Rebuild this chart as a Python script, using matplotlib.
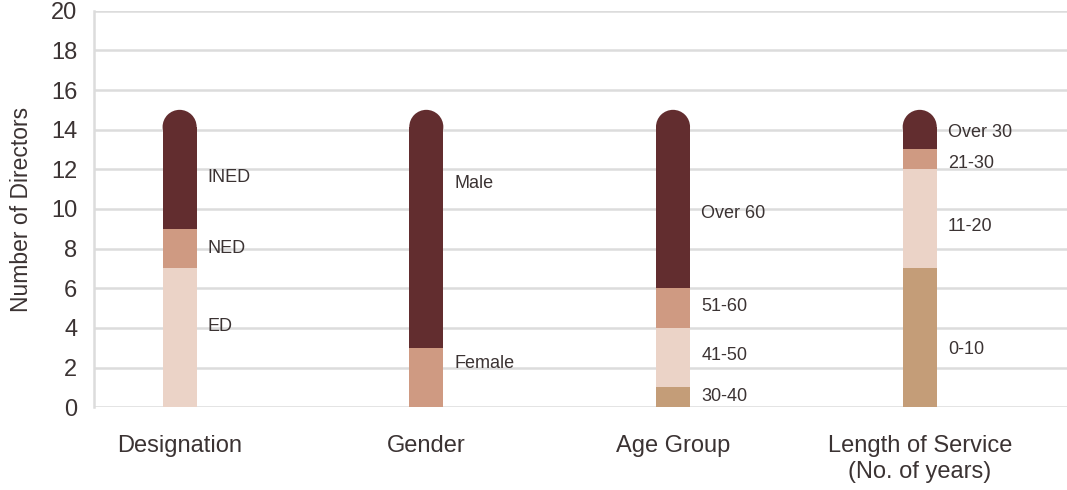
import matplotlib
matplotlib.use("Agg")
import matplotlib.pyplot as plt
from matplotlib.patches import Ellipse

# ---- data ----
categories = ["Designation", "Gender", "Age Group", "Length of Service\n(No. of years)"]
designation_labels = ["ED", "NED", "INED"]
designation_values = [7, 2, 6]
gender_labels = ["Female", "Male"]
gender_values = [3, 12]
age_labels = ["30-40", "41-50", "51-60", "Over 60"]
age_values = [1, 3, 2, 9]
service_labels = ["0-10", "11-20", "21-30", "Over 30"]
service_values = [7, 5, 1, 2]
y_ticks = list(range(0, 21, 2))
y_label = "Number of Directors"

# ---- style ----
DARK = "#622D2F"
MID = "#CF9A82"
LIGHT = "#EBD3C7"
TAN = "#C49D78"
GRID = "#DCDCDC"
TXT = "#3B3333"

designation_colors = [LIGHT, MID, DARK]
gender_colors = [MID, DARK]
age_colors = [TAN, LIGHT, MID, DARK]
service_colors = [TAN, LIGHT, MID, DARK]

# label nudges (layout only, in y units)
designation_nudge = [0.59, 0.02, -0.4]
gender_nudge = [0.72, 2.31]
age_nudge = [0.03, 0.12, 0.09, -0.75]
service_nudge = [-0.58, -0.39, -0.23, -0.15]

plt.rcParams["font.family"] = ["Liberation Sans", "DejaVu Sans"]

fig = plt.figure(figsize=(10.67, 4.90), dpi=100)
ax = fig.add_axes([0.0881, 0.1688, 0.9119, 0.8094])

ax.set_xlim(-0.347, 3.597)
ax.set_ylim(0, 20)
ax.set_yticks(y_ticks)
ax.yaxis.grid(True, color=GRID, linewidth=1.8)
ax.set_axisbelow(True)
for s in ["top", "right", "bottom"]:
    ax.spines[s].set_visible(False)
ax.spines["left"].set_color(GRID)
ax.spines["left"].set_linewidth(1.8)
ax.tick_params(axis="both", length=0, colors=TXT)
ax.tick_params(axis="y", labelsize=17, pad=12)
ax.tick_params(axis="x", labelsize=17, pad=20)
ax.set_xticks(range(len(categories)))
ax.set_xticklabels(categories, color=TXT, linespacing=1.25)
ax.set_ylabel(y_label, fontsize=16.5, color=TXT, labelpad=13)

bw = 0.138
fig.canvas.draw()
p0 = ax.transData.transform((0, 0))
p1 = ax.transData.transform((1, 1))
px_x = p1[0] - p0[0]
px_y = p1[1] - p0[1]
r_data = (bw * px_x / 2) / px_y

groups = [
    (designation_labels, designation_values, designation_colors, designation_nudge),
    (gender_labels, gender_values, gender_colors, gender_nudge),
    (age_labels, age_values, age_colors, age_nudge),
    (service_labels, service_values, service_colors, service_nudge),
]

for i, (labels, values, colors, nudges) in enumerate(groups):
    bottom = 0
    n = len(values)
    for j, (lab, v, c, nd) in enumerate(zip(labels, values, colors, nudges)):
        h = v - r_data if j == n - 1 else v
        ax.bar(i, h, bottom=bottom, width=bw, color=c, linewidth=0, zorder=3)
        if j == n - 1:
            ax.add_patch(Ellipse((i, bottom + h), bw, 2 * r_data, facecolor=c,
                                 edgecolor="none", zorder=3))
        ax.annotate(lab, (i + bw / 2, bottom + v / 2 + nd), xytext=(8, 0),
                    textcoords="offset points", va="center", ha="left",
                    fontsize=13, color=TXT, zorder=4)
        bottom += v

fig.savefig("out.png", dpi=100)
